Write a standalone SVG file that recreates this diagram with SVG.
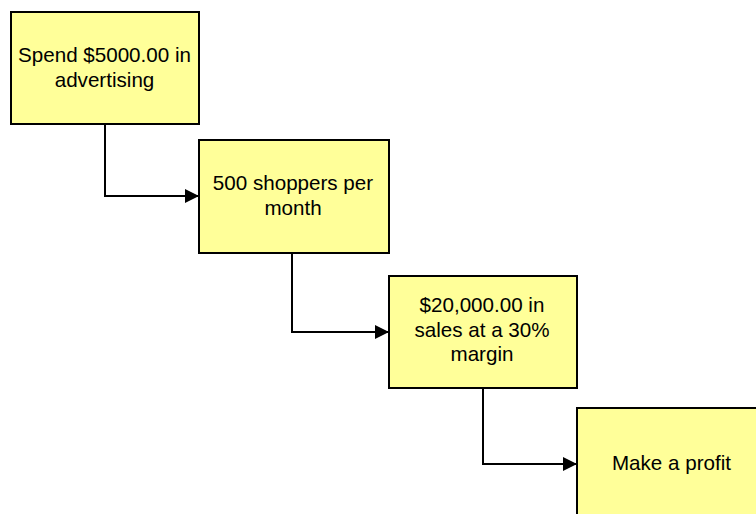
<svg xmlns="http://www.w3.org/2000/svg" width="756" height="514" viewBox="0 0 756 514">
<defs>
<style>
.box{fill:#FFFF99;stroke:#000;stroke-width:2}
.lbl{font-family:"Liberation Sans",Arial,sans-serif;font-size:20.6px;fill:#000;text-anchor:middle}
.con{fill:none;stroke:#000;stroke-width:2}
</style>
<marker id="ah" markerWidth="14" markerHeight="14" refX="14" refY="7" orient="auto" markerUnits="userSpaceOnUse">
<path d="M0,0 L14,7 L0,14 Z" fill="#000"/>
</marker>
</defs>
<rect width="756" height="514" fill="#fff"/>
<g id="connectors">
<path class="con" d="M105,124 V196 H199" marker-end="url(#ah)"/>
<path class="con" d="M292,253 V332 H389" marker-end="url(#ah)"/>
<path class="con" d="M483,388 V464 H577" marker-end="url(#ah)"/>
</g>
<g id="n1">
<rect class="box" x="11" y="12" width="188" height="112"/>
<text class="lbl" x="104.5" y="62">Spend $5000.00 in</text>
<text class="lbl" x="104.5" y="87">advertising</text>
</g>
<g id="n2">
<rect class="box" x="199" y="140" width="190" height="113"/>
<text class="lbl" x="293" y="190">500 shoppers per</text>
<text class="lbl" x="293" y="215">month</text>
</g>
<g id="n3">
<rect class="box" x="389" y="276" width="188" height="112"/>
<text class="lbl" x="482" y="312">$20,000.00 in</text>
<text class="lbl" x="482" y="337">sales at a 30%</text>
<text class="lbl" x="482" y="361">margin</text>
</g>
<g id="n4">
<rect class="box" x="577" y="408" width="188" height="112"/>
<text class="lbl" x="671.5" y="470">Make a profit</text>
</g>
</svg>
